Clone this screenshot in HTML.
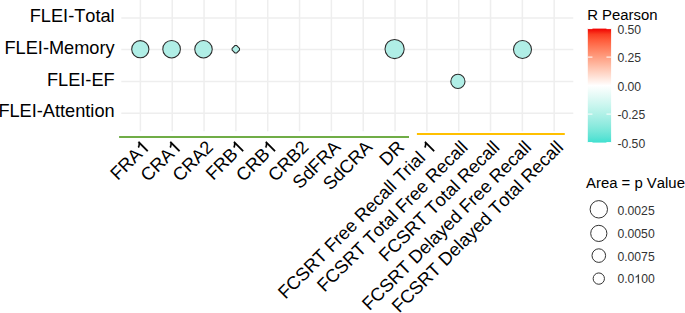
<!DOCTYPE html>
<html><head><meta charset="utf-8"><style>
html,body{margin:0;padding:0;background:#fff;}
body{width:685px;height:313px;overflow:hidden;position:relative;}
svg{position:absolute;left:0;top:0;}
text{font-family:"Liberation Sans",sans-serif;font-kerning:none;}
</style></head><body>
<svg width="685" height="313" viewBox="0 0 685 313">
<defs><linearGradient id="cb" x1="0" y1="0" x2="0" y2="1">
<stop offset="0.000" stop-color="#f00000"/>
<stop offset="0.050" stop-color="#fa3e22"/>
<stop offset="0.100" stop-color="#ff5b3a"/>
<stop offset="0.150" stop-color="#ff7352"/>
<stop offset="0.200" stop-color="#ff8969"/>
<stop offset="0.250" stop-color="#ff9e81"/>
<stop offset="0.300" stop-color="#ffb299"/>
<stop offset="0.350" stop-color="#ffc6b2"/>
<stop offset="0.400" stop-color="#ffd9cb"/>
<stop offset="0.450" stop-color="#ffece5"/>
<stop offset="0.500" stop-color="#ffffff"/>
<stop offset="0.550" stop-color="#f0fcfa"/>
<stop offset="0.600" stop-color="#e1f9f5"/>
<stop offset="0.650" stop-color="#d1f7f1"/>
<stop offset="0.700" stop-color="#c1f4ec"/>
<stop offset="0.750" stop-color="#b0f1e7"/>
<stop offset="0.800" stop-color="#9fede3"/>
<stop offset="0.850" stop-color="#8ceade"/>
<stop offset="0.900" stop-color="#77e7d9"/>
<stop offset="0.950" stop-color="#5fe3d5"/>
<stop offset="1.000" stop-color="#40e0d0"/>
</linearGradient></defs>
<g stroke="#eeeeee" stroke-width="1.5" fill="none">
<line x1="121.30" y1="18.00" x2="573.29" y2="18.00"/>
<line x1="121.30" y1="49.50" x2="573.29" y2="49.50"/>
<line x1="121.30" y1="81.55" x2="573.29" y2="81.55"/>
<line x1="121.30" y1="113.20" x2="573.29" y2="113.20"/>
<line x1="140.40" y1="0.00" x2="140.40" y2="131.30"/>
<line x1="172.23" y1="0.00" x2="172.23" y2="131.30"/>
<line x1="204.06" y1="0.00" x2="204.06" y2="131.30"/>
<line x1="235.89" y1="0.00" x2="235.89" y2="131.30"/>
<line x1="267.72" y1="0.00" x2="267.72" y2="131.30"/>
<line x1="299.55" y1="0.00" x2="299.55" y2="131.30"/>
<line x1="331.38" y1="0.00" x2="331.38" y2="131.30"/>
<line x1="363.21" y1="0.00" x2="363.21" y2="131.30"/>
<line x1="395.04" y1="0.00" x2="395.04" y2="131.30"/>
<line x1="426.87" y1="0.00" x2="426.87" y2="131.30"/>
<line x1="458.70" y1="0.00" x2="458.70" y2="131.30"/>
<line x1="490.53" y1="0.00" x2="490.53" y2="131.30"/>
<line x1="522.36" y1="0.00" x2="522.36" y2="131.30"/>
<line x1="554.19" y1="0.00" x2="554.19" y2="131.30"/>
</g>
<g fill="#b0eee6" stroke="#2b2b2b" stroke-width="1.05">
<circle cx="140.3" cy="49.2" r="8.60"/>
<circle cx="171.6" cy="49.2" r="8.80"/>
<circle cx="203.5" cy="49.3" r="8.75"/>
<circle cx="394.6" cy="49.0" r="9.60"/>
<circle cx="457.9" cy="81.4" r="7.10"/>
<circle cx="522.5" cy="49.4" r="9.00"/>
<path d="M239.50,50.15 L236.70,52.95 L234.90,52.95 L232.10,50.15 L232.10,48.35 L234.90,45.55 L236.70,45.55 L239.50,48.35 Z"/>
</g>
<line x1="119.1" y1="136.95" x2="409.0" y2="136.95" stroke="#70ad47" stroke-width="2"/>
<line x1="416.9" y1="133.95" x2="564.8" y2="133.95" stroke="#ffc000" stroke-width="2"/>
<g fill="#000" font-size="18.2"><text x="29.74" y="22.45">FLEI-Total</text></g>
<g fill="#000" font-size="18.2"><text x="4.48" y="53.75">FLEI-Memory</text></g>
<g fill="#000" font-size="18.2"><text x="46.95" y="85.60">FLEI-EF</text></g>
<g fill="#000" font-size="18.2"><text x="-1.64" y="117.20">FLEI-Attention</text></g>
<g fill="#000" font-size="18.2" transform="translate(150.60,148.2) rotate(-45)"><text x="-46.52" y="0.00">FRA</text><path transform="translate(-10.12,0.00) scale(0.00889,-0.00889)" d="M763,0 L583,0 L583,1147 L518,1085 L412,1022 L312,975 L223,942 L223,1116 L372,1186 L484,1269 L563,1355 L611,1466 L763,1466 Z" stroke="#000" stroke-width="22"/></g>
<g fill="#000" font-size="18.2" transform="translate(182.43,148.2) rotate(-45)"><text x="-48.55" y="0.00">CRA</text><path transform="translate(-10.12,0.00) scale(0.00889,-0.00889)" d="M763,0 L583,0 L583,1147 L518,1085 L412,1022 L312,975 L223,942 L223,1116 L372,1186 L484,1269 L563,1355 L611,1466 L763,1466 Z" stroke="#000" stroke-width="22"/></g>
<g fill="#000" font-size="18.2" transform="translate(214.26,148.2) rotate(-45)"><text x="-48.55" y="0.00">CRA2</text></g>
<g fill="#000" font-size="18.2" transform="translate(246.09,148.2) rotate(-45)"><text x="-46.52" y="0.00">FRB</text><path transform="translate(-10.12,0.00) scale(0.00889,-0.00889)" d="M763,0 L583,0 L583,1147 L518,1085 L412,1022 L312,975 L223,942 L223,1116 L372,1186 L484,1269 L563,1355 L611,1466 L763,1466 Z" stroke="#000" stroke-width="22"/></g>
<g fill="#000" font-size="18.2" transform="translate(277.92,148.2) rotate(-45)"><text x="-48.55" y="0.00">CRB</text><path transform="translate(-10.12,0.00) scale(0.00889,-0.00889)" d="M763,0 L583,0 L583,1147 L518,1085 L412,1022 L312,975 L223,942 L223,1116 L372,1186 L484,1269 L563,1355 L611,1466 L763,1466 Z" stroke="#000" stroke-width="22"/></g>
<g fill="#000" font-size="18.2" transform="translate(309.75,148.2) rotate(-45)"><text x="-48.55" y="0.00">CRB2</text></g>
<g fill="#000" font-size="18.2" transform="translate(341.58,148.2) rotate(-45)"><text x="-58.66" y="0.00">SdFRA</text></g>
<g fill="#000" font-size="18.2" transform="translate(373.41,148.2) rotate(-45)"><text x="-60.69" y="0.00">SdCRA</text></g>
<g fill="#000" font-size="18.2" transform="translate(405.24,148.2) rotate(-45)"><text x="-26.29" y="0.00">DR</text></g>
<g fill="#000" font-size="18.2" transform="translate(437.07,148.2) rotate(-45)"><text x="-214.39" y="0.00">FCSRT&#160;Free&#160;Recall&#160;Trial&#160;</text><path transform="translate(-10.12,0.00) scale(0.00889,-0.00889)" d="M763,0 L583,0 L583,1147 L518,1085 L412,1022 L312,975 L223,942 L223,1116 L372,1186 L484,1269 L563,1355 L611,1466 L763,1466 Z" stroke="#000" stroke-width="22"/></g>
<g fill="#000" font-size="18.2" transform="translate(468.90,148.2) rotate(-45)"><text x="-204.29" y="0.00">FCSRT&#160;Total&#160;Free&#160;Recall</text></g>
<g fill="#000" font-size="18.2" transform="translate(500.73,148.2) rotate(-45)"><text x="-161.81" y="0.00">FCSRT&#160;Total&#160;Recall</text></g>
<g fill="#000" font-size="18.2" transform="translate(532.56,148.2) rotate(-45)"><text x="-230.60" y="0.00">FCSRT&#160;Delayed&#160;Free&#160;Recall</text></g>
<g fill="#000" font-size="18.2" transform="translate(564.39,148.2) rotate(-45)"><text x="-233.64" y="0.00">FCSRT&#160;Delayed&#160;Total&#160;Recall</text></g>
<rect x="587.8" y="28.6" width="23.3" height="114.00" fill="url(#cb)"/>
<g stroke="#ffffff" stroke-width="1">
<line x1="587.8" y1="28.60" x2="592.46" y2="28.60"/><line x1="606.44" y1="28.60" x2="611.10" y2="28.60"/>
<line x1="587.8" y1="57.10" x2="592.46" y2="57.10"/><line x1="606.44" y1="57.10" x2="611.10" y2="57.10"/>
<line x1="587.8" y1="85.60" x2="592.46" y2="85.60"/><line x1="606.44" y1="85.60" x2="611.10" y2="85.60"/>
<line x1="587.8" y1="114.10" x2="592.46" y2="114.10"/><line x1="606.44" y1="114.10" x2="611.10" y2="114.10"/>
<line x1="587.8" y1="142.60" x2="592.46" y2="142.60"/><line x1="606.44" y1="142.60" x2="611.10" y2="142.60"/>
</g>
<g fill="#000" font-size="14.9"><text x="587.20" y="20.10">R&#160;Pearson</text></g>
<g fill="#333" font-size="12.2"><text x="617.40" y="33.70">0.50</text></g>
<g fill="#333" font-size="12.2"><text x="617.40" y="62.20">0.25</text></g>
<g fill="#333" font-size="12.2"><text x="617.40" y="90.70">0.00</text></g>
<g fill="#333" font-size="12.2"><text x="617.40" y="119.20">-0.25</text></g>
<g fill="#333" font-size="12.2"><text x="617.40" y="147.70">-0.50</text></g>
<g fill="#000" font-size="14.9"><text x="586.00" y="188.20">Area&#160;=&#160;p&#160;Value</text></g>
<g fill="none" stroke="#333" stroke-width="1">
<circle cx="598.8" cy="209.3" r="8.70"/>
<circle cx="598.8" cy="233.4" r="8.10"/>
<circle cx="598.8" cy="255.6" r="6.80"/>
<circle cx="598.8" cy="278.6" r="5.65"/>
</g>
<g fill="#333" font-size="12.2"><text x="617.40" y="214.50">0.0025</text></g>
<g fill="#333" font-size="12.2"><text x="617.40" y="237.70">0.0050</text></g>
<g fill="#333" font-size="12.2"><text x="617.40" y="260.90">0.0075</text></g>
<g fill="#333" font-size="12.2"><text x="617.40" y="283.20">0.0</text><path transform="translate(634.36,283.20) scale(0.00596,-0.00596)" d="M763,0 L583,0 L583,1147 L518,1085 L412,1022 L312,975 L223,942 L223,1116 L372,1186 L484,1269 L563,1355 L611,1466 L763,1466 Z" stroke="#333" stroke-width="22"/><text x="641.14" y="283.20">00</text></g>
</svg>
</body></html>
